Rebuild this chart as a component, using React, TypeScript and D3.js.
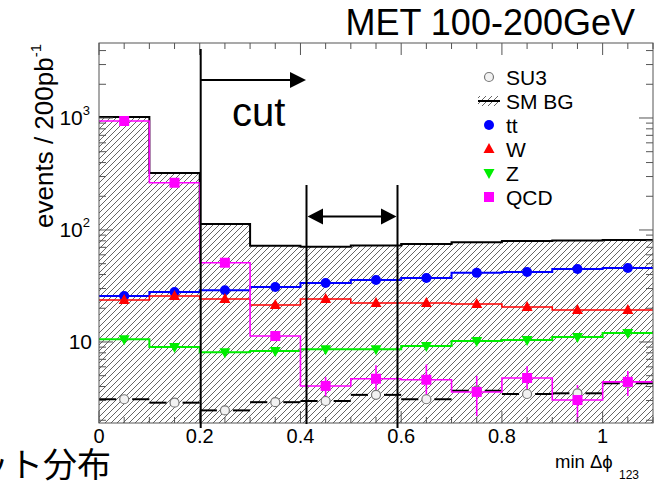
import React from "react";
import * as d3 from "d3";

// ---- data ----
const binEdges = [0, 0.1, 0.2, 0.3, 0.4, 0.5, 0.6, 0.7, 0.8, 0.9, 1.0, 1.1];
const smBG = [1020, 323, 113, 72.4, 71, 72.5, 75, 77.6, 79.8, 80.6, 81.3];
const tt = [25.7, 27.9, 29, 31, 33.6, 35.7, 37.3, 41.4, 42.1, 44.8, 45.8];
const wjets = [23.7, 25.7, 24.2, 21.4, 24.2, 22.3, 22.3, 21.8, 20.5, 19.3, 19.3];
const zjets = [10.6, 9.0, 8.1, 8.3, 8.6, 8.6, 9.2, 10.2, 10.4, 11.1, 12.0];
const qcd = [940, 264, 51, 11.3, 4.05, 4.7, 4.6, 3.58, 4.77, 3.03, 4.4];
const qcdErr = [0, 0, 2, 1, 0.8, 1.5, 1.7, 1.4, 1.3, 1.1, 1.1];
const su3 = [3.08, 2.87, 2.45, 2.9, 2.97, 3.37, 3.08, 3.67, 3.43, 3.48, 4.28];

const xTickLabels = [0, 0.2, 0.4, 0.6, 0.8, 1];
const yDecades = [10, 100, 1000];
const legendNames = ["SU3", "SM BG", "tt", "W", "Z", "QCD"];

const FONT = "'Liberation Sans', Arial, Helvetica, sans-serif";

const L = 99, R = 653, T = 43, B = 423;
const x = d3.scaleLinear().domain([0, 1.1]).range([L, R]);
const y = d3.scaleLog().domain([1.89, 4673]).range([B, T]);

function stepPoints(vals: number[]) {
  const pts: [number, number][] = [];
  vals.forEach((v, i) => {
    pts.push([binEdges[i], v]);
    pts.push([binEdges[i + 1], v]);
  });
  return pts;
}
const lineGen = d3.line<[number, number]>().x(d => x(d[0])).y(d => y(d[1]));
const areaGen = d3.area<[number, number]>().x(d => x(d[0])).y0(B).y1(d => y(d[1]));

const centers = binEdges.slice(0, -1).map((e, i) => (e + binEdges[i + 1]) / 2);

function Marker({ kind, cx, cy, color }: { kind: string; cx: number; cy: number; color: string }) {
  if (kind === "circle") return <circle cx={cx} cy={cy} r={5} fill={color} />;
  if (kind === "open") return <circle cx={cx} cy={cy} r={4.5} fill="#f2f2f2" stroke="#777" strokeWidth={1.2} />;
  if (kind === "up") return <path d={`M${cx},${cy - 6} L${cx + 5.5},${cy + 4} L${cx - 5.5},${cy + 4}Z`} fill={color} />;
  if (kind === "down") return <path d={`M${cx},${cy + 6} L${cx + 5.5},${cy - 4} L${cx - 5.5},${cy - 4}Z`} fill={color} />;
  return <rect x={cx - 5} y={cy - 5} width={10} height={10} fill={color} />;
}

export default function App() {
  const xMinor = d3.range(0, 1.1001, 0.05);
  const xMajor = d3.range(0, 1.1001, 0.2);
  const yMinor: number[] = [];
  [1, 10, 100, 1000].forEach(dec => {
    for (let k = 2; k <= 9; k++) {
      const v = dec * k;
      if (v >= 1.89 && v <= 4673) yMinor.push(v);
    }
  });

  const series = [
    { vals: tt, color: "#0000ff", kind: "circle", w: 2 },
    { vals: wjets, color: "#ff0000", kind: "up", w: 1.6 },
    { vals: zjets, color: "#00ee00", kind: "down", w: 2 },
  ];

  const legendY = [77, 101, 125, 149, 173, 197];

  return (
    <svg width={662} height={485} style={{ position: "absolute", left: 0, top: 0, background: "#fff" }} fontFamily={FONT}>
      <defs>
        <pattern id="hatch" patternUnits="userSpaceOnUse" width={6} height={6}>
          <rect width={6} height={6} fill="#fff" />
          <path d="M-1,1 l2,-2 M0,6 l6,-6 M5,7 l2,-2" stroke="#666" strokeWidth={1} />
        </pattern>
        <clipPath id="plotClip">
          <rect x={L} y={T} width={R - L} height={B - T} />
        </clipPath>
      </defs>

      {/* title */}
      <text x={635} y={35} fontSize={36} textAnchor="end" fill="#000">MET 100-200GeV</text>

      {/* plot contents */}
      <g clipPath="url(#plotClip)">
        <path d={areaGen(stepPoints(smBG)) || ""} fill="url(#hatch)" />
        <path d={lineGen(stepPoints(smBG)) || ""} fill="none" stroke="#000" strokeWidth={2} />

        {/* SU3 segments with gaps */}
        {su3.map((v, i) => {
          const cx = x(centers[i]);
          const yy = y(v);
          return (
            <g key={"su3" + i}>
              <line x1={x(binEdges[i])} x2={cx - 8} y1={yy} y2={yy} stroke="#000" strokeWidth={2} />
              <line x1={cx + 8} x2={x(binEdges[i + 1])} y1={yy} y2={yy} stroke="#000" strokeWidth={2} />
            </g>
          );
        })}

        {series.map((s, si) => (
          <g key={"s" + si}>
            <path d={lineGen(stepPoints(s.vals)) || ""} fill="none" stroke={s.color} strokeWidth={s.w} />
            {s.vals.map((v, i) => (
              <Marker key={i} kind={s.kind} cx={x(centers[i])} cy={y(v)} color={s.color} />
            ))}
          </g>
        ))}

        {/* QCD */}
        <path d={lineGen(stepPoints(qcd)) || ""} fill="none" stroke="#ff00ff" strokeWidth={1.6} />
        {qcd.map((v, i) =>
          qcdErr[i] > 0 ? (
            <line key={"qe" + i} x1={x(centers[i])} x2={x(centers[i])} y1={y(v + qcdErr[i])} y2={y(Math.max(v - qcdErr[i], 1))} stroke="#ff00ff" strokeWidth={1.6} />
          ) : null
        )}
        {su3.map((v, i) => (
          <Marker key={"su3m" + i} kind="open" cx={x(centers[i])} cy={y(v)} color="#777" />
        ))}
        {qcd.map((v, i) => (
          <Marker key={"qm" + i} kind="square" cx={x(centers[i])} cy={y(v)} color="#ff00ff" />
        ))}
      </g>

      {/* frame */}
      <rect x={L} y={T} width={R - L} height={B - T} fill="none" stroke="#555" strokeWidth={1} />

      {/* x ticks */}
      {xMinor.map((t, i) => {
        const isMajor = xMajor.some(m => Math.abs(m - t) < 1e-6);
        const len = isMajor ? 12 : 6;
        return (
          <g key={"xt" + i} stroke="#555" strokeWidth={1}>
            <line x1={x(t)} x2={x(t)} y1={B} y2={B - len} />
            <line x1={x(t)} x2={x(t)} y1={T} y2={T + len} />
          </g>
        );
      })}
      {/* y ticks */}
      {yDecades.map((t, i) => (
        <g key={"yM" + i} stroke="#555" strokeWidth={1}>
          <line x1={L} x2={L + 14} y1={y(t)} y2={y(t)} />
          <line x1={R} x2={R - 14} y1={y(t)} y2={y(t)} />
        </g>
      ))}
      {yMinor.map((t, i) => (
        <g key={"ym" + i} stroke="#555" strokeWidth={1}>
          <line x1={L} x2={L + 7} y1={y(t)} y2={y(t)} />
          <line x1={R} x2={R - 7} y1={y(t)} y2={y(t)} />
        </g>
      ))}

      {/* x tick labels */}
      {xTickLabels.map((t, i) => (
        <text key={"xl" + i} x={x(t)} y={443} fontSize={20} textAnchor="middle" fill="#000">{String(t)}</text>
      ))}
      {/* y tick labels */}
      {yDecades.map((t, i) => {
        const e = Math.round(Math.log10(t));
        return e === 1 ? (
          <text key={"yl" + i} x={92} y={y(t) + 7} fontSize={21} textAnchor="end" fill="#000">10</text>
        ) : (
          <text key={"yl" + i} x={90} y={y(t) + 7} fontSize={21} textAnchor="end" fill="#000">
            10<tspan fontSize={13} dy={-10}>{e}</tspan>
          </text>
        );
      })}

      {/* axis titles */}
      <text transform="translate(53,44) rotate(-90)" fontSize={26} textAnchor="end" fill="#000">
        events / 200pb<tspan fontSize={15} dy={-12}>-1</tspan>
      </text>
      <text x={555} y={468} fontSize={18.5} fill="#000">min Δϕ</text>
      <text x={619} y={479} fontSize={12} fill="#000">123</text>

      {/* cut annotation */}
      <line x1={200.7} x2={200.7} y1={49} y2={428} stroke="#000" strokeWidth={2} />
      <line x1={200.7} x2={292} y1={80} y2={80} stroke="#000" strokeWidth={2} />
      <path d="M306,80 L290,72 L290,88Z" fill="#000" />
      <text x={232} y={126} fontSize={40} fill="#000">cut</text>

      <line x1={306.5} x2={306.5} y1={185} y2={424} stroke="#000" strokeWidth={2} />
      <line x1={397.5} x2={397.5} y1={185} y2={428} stroke="#000" strokeWidth={2} />
      <line x1={318} x2={386} y1={216.5} y2={216.5} stroke="#000" strokeWidth={2} />
      <path d="M307.5,216.5 L323,208.5 L323,224.5Z" fill="#000" />
      <path d="M396.5,216.5 L381,208.5 L381,224.5Z" fill="#000" />

      {/* legend */}
      {legendNames.map((n, i) => {
        const ly = legendY[i];
        const cx = 489;
        let sym: React.ReactNode = null;
        if (i === 0) sym = <Marker kind="open" cx={cx} cy={ly} color="#777" />;
        else if (i === 1)
          sym = (
            <g>
              <rect x={478} y={ly - 5} width={22} height={10} fill="url(#hatch)" />
              <line x1={478} x2={500} y1={ly} y2={ly} stroke="#000" strokeWidth={2} />
            </g>
          );
        else if (i === 2) sym = <Marker kind="circle" cx={cx} cy={ly} color="#0000ff" />;
        else if (i === 3) sym = <Marker kind="up" cx={cx} cy={ly} color="#ff0000" />;
        else if (i === 4) sym = <Marker kind="down" cx={cx} cy={ly} color="#00ee00" />;
        else sym = <Marker kind="square" cx={cx} cy={ly} color="#ff00ff" />;
        return (
          <g key={"lg" + i}>
            {sym}
            <text x={506} y={ly + 7.5} fontSize={21} fill="#000">{n}</text>
          </g>
        );
      })}

      {/* cropped Japanese caption */}
      <text x={111} y={477} fontSize={34} textAnchor="end" fontFamily="'Noto Sans CJK JP', sans-serif" fill="#000">カット分布</text>
    </svg>
  );
}
